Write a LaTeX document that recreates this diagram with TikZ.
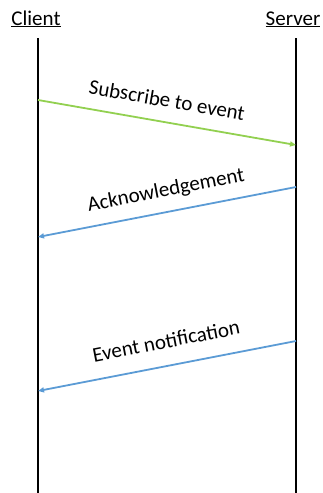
\documentclass[tikz,border=0pt]{standalone}
\usepackage{fontspec}
\setmainfont{Carlito}
\usetikzlibrary{arrows.meta}
\definecolor{msggreen}{HTML}{92D050}
\definecolor{msgblue}{HTML}{5B9BD5}
\begin{document}
\begin{tikzpicture}[x=1pt,y=-1pt,
  actor/.style={font=\fontsize{21}{25}\selectfont, inner sep=0pt, anchor=base},
  lifeline/.style={line width=2.4pt, black},
  msg/.style={line width=1.8pt, -{Triangle[length=6pt,width=5pt]}},
  msglabel/.style={font=\fontsize{21}{25}\selectfont, inner sep=0pt}]
\useasboundingbox (0,0) rectangle (322,493);
% participants
\node[actor] (client) at (36,25) {\underline{Client}};
\node[actor] (server) at (293,25) {\underline{Server}};
% lifelines
\coordinate (cTop) at (38,38);
\coordinate (cBot) at (38,493);
\coordinate (sTop) at (296,38);
\coordinate (sBot) at (296,493);
\draw[lifeline] (cTop) -- (cBot);
\draw[lifeline] (sTop) -- (sBot);
% message end points
\coordinate (m1a) at (38,100);
\coordinate (m1b) at (296,145);
\coordinate (m2a) at (296,187);
\coordinate (m2b) at (38,237);
\coordinate (m3a) at (296,341);
\coordinate (m3b) at (38,391);
% messages
\draw[msg, msggreen] (m1a) -- (m1b);
\draw[msg, msgblue] (m2a) -- (m2b);
\draw[msg, msgblue] (m3a) -- (m3b);
% labels
\node[msglabel, rotate=-9.9] (l1) at (167,100) {Subscribe to event};
\node[msglabel, rotate=11] (l2) at (166,191) {Acknowledgement};
\node[msglabel, rotate=11] (l3) at (166,341) {Event notification};
\end{tikzpicture}
\end{document}
